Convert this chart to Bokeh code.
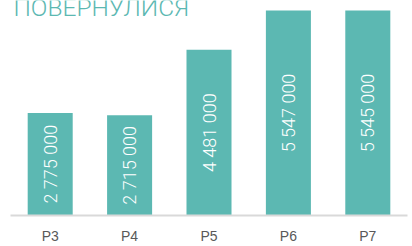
from math import pi
from bokeh.plotting import figure
from bokeh.models import ColumnDataSource, Range1d, Label
from bokeh.core.properties import value
from bokeh.embed import file_html
from bokeh.resources import INLINE

title_text = "ПОВЕРНУЛИСЯ"
categories = ["P3", "P4", "P5", "P6", "P7"]
values = [2775000, 2715000, 4481000, 5547000, 5545000]
labels = [f"{v:,}".replace(",", " ") for v in values]

TEAL = "#5cb8b2"

src = ColumnDataSource(dict(
    cat=categories,
    val=values,
    mid=[v / 2 for v in values],
    lab=labels,
))

p = figure(
    x_range=categories,
    y_range=Range1d(0, 5816000),
    width=412, height=246,
    output_backend="svg", toolbar_location=None,
    min_border_left=10, min_border_right=5,
    min_border_top=0, min_border_bottom=30,
)
p.x_range.range_padding = 0
p.outline_line_color = None
p.xgrid.visible = False
p.ygrid.visible = False
p.yaxis.visible = False

p.vbar(x="cat", top="val", width=0.567, source=src, fill_color=TEAL, line_color=None)
p.text(x="cat", y="mid", text="lab", source=src, angle=pi / 2,
       text_align="center", text_baseline="middle", text_color="white",
       text_font=value("Roboto Light"), text_font_size="18px")

ax = p.xaxis[0]
ax.axis_line_color = "#d9d9d9"
ax.axis_line_width = 2
ax.major_tick_line_color = None
ax.minor_tick_line_color = None
ax.major_tick_out = 0
ax.major_tick_in = 0
ax.major_label_standoff = 12
ax.major_label_text_color = "#595959"
ax.major_label_text_font = "Liberation Sans"
ax.major_label_text_font_size = "14px"

p.add_layout(Label(x=3, y=208, x_units="screen", y_units="screen",
                   text=title_text, text_color=TEAL,
                   text_font="Roboto Light", text_font_size="24.5px",
                   text_baseline="alphabetic"))

open("out.html", "w").write(file_html(p, INLINE))
